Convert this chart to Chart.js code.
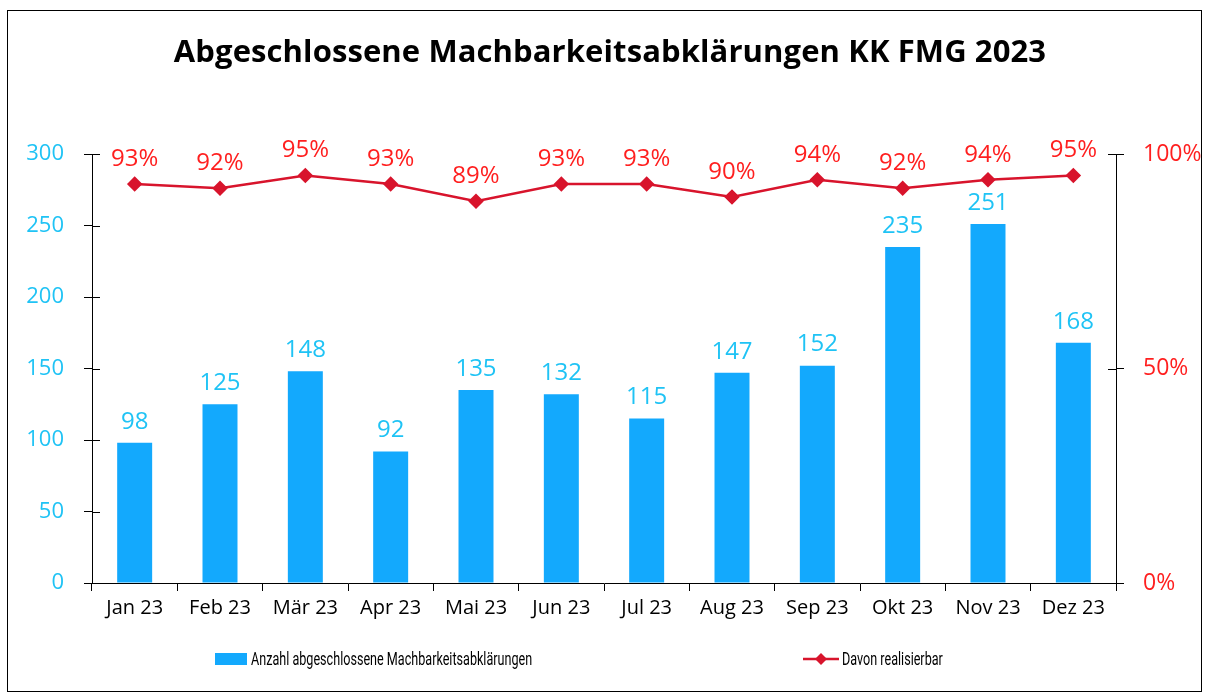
<!DOCTYPE html>
<html>
<head>
<meta charset="utf-8">
<script src="https://cdn.jsdelivr.net/npm/chart.js@4"></script>
<style>
  body { margin: 0; background: #fff; }
  #wrap { position: relative; width: 1209px; height: 695px; }
  #frame { position: absolute; left: 7px; top: 10px; width: 1195px; height: 682px; border: 1px solid #000; box-sizing: border-box; }
  #title { position: absolute; left: 0; width: 1220px; top: 29px; text-align: center; font: bold 31px "Open Sans", sans-serif; color: #000; letter-spacing: 0.1px; }
  canvas { position: absolute; left: 0; top: 0; }
  .leg { position: absolute; top: 648px; font: 18px "Roboto", sans-serif; color: #000; white-space: nowrap; }
  .leg .txt { display: inline-block; transform: scaleX(0.7); transform-origin: left center; }
  .box { display: inline-block; width: 32px; height: 12px; background: #13A9FD; vertical-align: 0px; margin-right: 4px; }
</style>
</head>
<body>
<div id="wrap">
  <canvas id="chart" width="1209" height="695"></canvas>
  <div id="frame"></div>
  <div id="title">Abgeschlossene Machbarkeitsabklärungen KK FMG 2023</div>
  <div class="leg" style="left:215px"><span class="box"></span><span class="txt" id="leg1"></span></div>
  <div class="leg" style="left:803px"><svg width="36" height="14" style="vertical-align:-1px;margin-right:3px"><line x1="0" y1="7" x2="36" y2="7" stroke="#D8142C" stroke-width="2.5"/><polygon points="18,1 24,7 18,13 12,7" fill="#D8142C"/></svg><span class="txt" id="leg2"></span></div>
</div>
<script>
const months = ['Jan 23', 'Feb 23', 'Mär 23', 'Apr 23', 'Mai 23', 'Jun 23', 'Jul 23', 'Aug 23', 'Sep 23', 'Okt 23', 'Nov 23', 'Dez 23'];
const completed = [98, 125, 148, 92, 135, 132, 115, 147, 152, 235, 251, 168];
const feasiblePct = [93, 92, 95, 93, 89, 93, 93, 90, 94, 92, 94, 95];
const countTicks = [0, 50, 100, 150, 200, 250, 300];
const pctTicks = [0, 50, 100];
const barLabel = 'Anzahl abgeschlossene Machbarkeitsabklärungen';
const lineLabel = 'Davon realisierbar';

document.getElementById('leg1').textContent = barLabel;
document.getElementById('leg2').textContent = lineLabel;

const blueText = '#1FC3F5';
const redText = '#FF1F1F';

// inner half of y ticks + value labels
const extras = {
  id: 'extras',
  afterDatasetsDraw(chart) {
    const ctx = chart.ctx;
    const yL = chart.scales.y, yR = chart.scales.y2;
    ctx.save();
    ctx.strokeStyle = '#000';
    ctx.lineWidth = 1;
    countTicks.forEach(v => {
      const y = Math.round(yL.getPixelForValue(v)) + 0.5;
      ctx.beginPath(); ctx.moveTo(yL.right, y); ctx.lineTo(yL.right + 8, y); ctx.stroke();
    });
    pctTicks.forEach(v => {
      const y = Math.round(yR.getPixelForValue(v)) + 0.5;
      ctx.beginPath(); ctx.moveTo(yR.left - 8, y); ctx.lineTo(yR.left, y); ctx.stroke();
    });

    ctx.font = '24px "Open Sans", sans-serif';
    ctx.textAlign = 'center';
    ctx.textBaseline = 'bottom';
    const bars = chart.getDatasetMeta(0).data;
    ctx.fillStyle = blueText;
    bars.forEach((b, i) => ctx.fillText(completed[i], b.x, b.y - 9));
    const pts = chart.getDatasetMeta(1).data;
    ctx.fillStyle = redText;
    pts.forEach((p, i) => ctx.fillText(feasiblePct[i] + '%', p.x, p.y - 13));
    ctx.restore();
  }
};

new Chart(document.getElementById('chart'), {
  data: {
    labels: months,
    datasets: [
      {
        type: 'bar',
        label: barLabel,
        data: completed,
        backgroundColor: '#13A9FD',
        barPercentage: 1,
        categoryPercentage: 0.41,
        yAxisID: 'y',
        order: 2
      },
      {
        type: 'line',
        label: lineLabel,
        data: feasiblePct,
        borderColor: '#D8142C',
        backgroundColor: '#D8142C',
        borderWidth: 2.5,
        pointStyle: 'rectRot',
        pointRadius: 6,
        pointHoverRadius: 6,
        tension: 0,
        yAxisID: 'y2',
        order: 1
      }
    ]
  },
  options: {
    responsive: false,
    animation: false,
    layout: { padding: { top: 154, left: 0, right: 0, bottom: 0 } },
    plugins: { legend: { display: false }, tooltip: { enabled: false }, title: { display: false } },
    scales: {
      x: {
        offset: true,
        grid: { offset: true, drawOnChartArea: false, color: '#000', tickLength: 8, lineWidth: 1 },
        border: { color: '#000', width: 1 },
        ticks: { color: '#000', font: { size: 20, family: 'Open Sans' }, padding: 5, maxRotation: 0 },
        afterFit(s) { s.height = 112; }
      },
      y: {
        position: 'left',
        min: 0, max: 300,
        afterBuildTicks(s) { s.ticks = countTicks.map(v => ({ value: v })); },
        grid: { drawOnChartArea: false, color: '#000', tickLength: 8 },
        border: { color: '#000', width: 1 },
        ticks: { color: blueText, font: { size: 22, family: 'Open Sans' }, padding: 20 },
        afterFit(s) { s.width = 92; }
      },
      y2: {
        position: 'right',
        min: 0, max: 100,
        afterBuildTicks(s) { s.ticks = pctTicks.map(v => ({ value: v })); },
        grid: { drawOnChartArea: false, color: '#000', tickLength: 8 },
        border: { color: '#000', width: 1 },
        ticks: { color: redText, font: { size: 23, family: 'Open Sans' }, padding: 19, callback: v => v + '%' },
        afterFit(s) { s.width = 93; }
      }
    }
  },
  plugins: [extras]
});
</script>
</body>
</html>
